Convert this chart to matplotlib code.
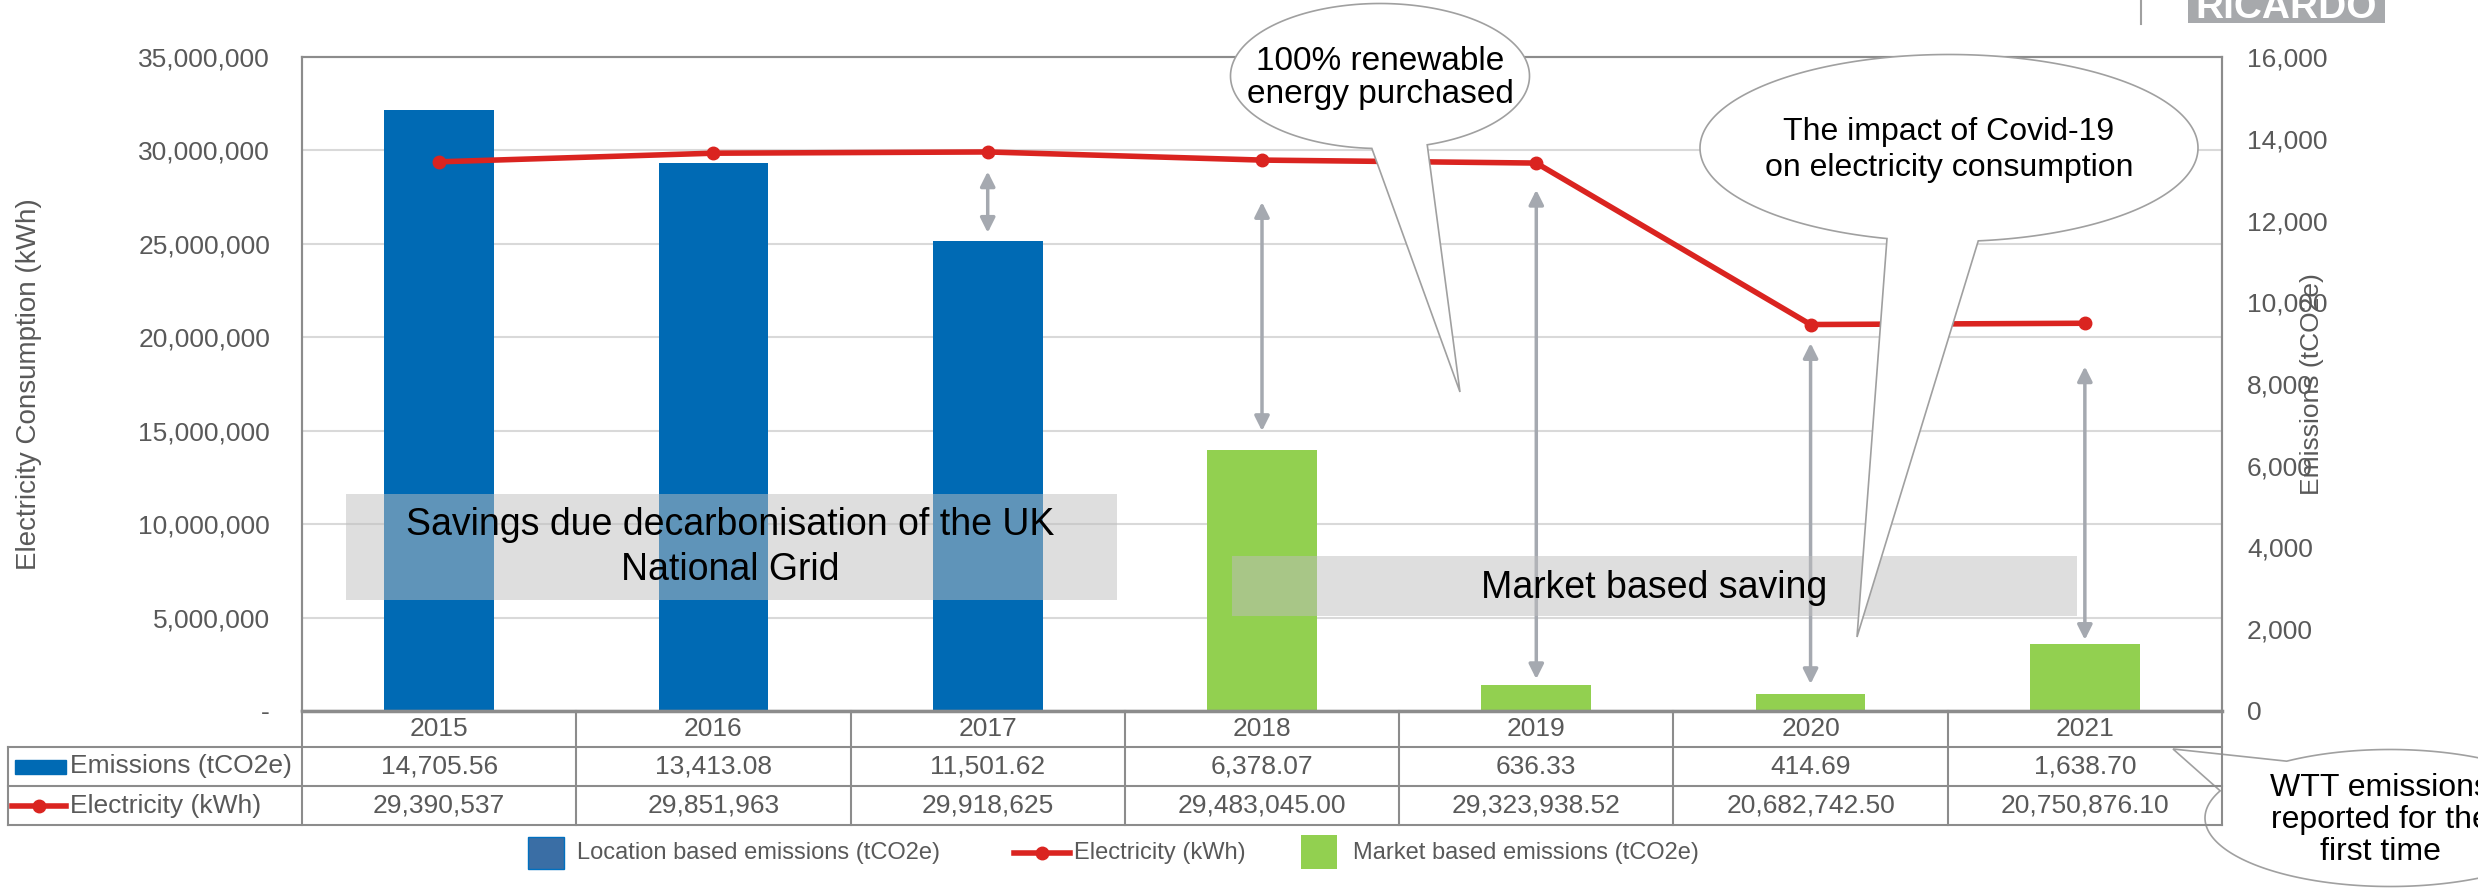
import numpy as np
import matplotlib
matplotlib.use('Agg')
import matplotlib.pyplot as plt
from matplotlib.patches import Rectangle, Polygon
from matplotlib.ticker import FuncFormatter

plt.rcParams['font.family'] = ['Liberation Sans', 'DejaVu Sans']

# ---- data ----
years = ['2015', '2016', '2017', '2018', '2019', '2020', '2021']
emissions = [14705.56, 13413.08, 11501.62, 6378.07, 636.33, 414.69, 1638.70]
electricity = [29390537, 29851963, 29918625, 29483045.00, 29323938.52,
               20682742.50, 20750876.10]
emissions_txt = ['14,705.56', '13,413.08', '11,501.62', '6,378.07', '636.33',
                 '414.69', '1,638.70']
electricity_txt = ['29,390,537', '29,851,963', '29,918,625', '29,483,045.00',
                   '29,323,938.52', '20,682,742.50', '20,750,876.10']
market_based = [False, False, False, True, True, True, True]

# saving arrows (tCO2e scale): year index, top, bottom
arrow_idx = [2, 3, 4, 5, 6]
arrow_top = [13200, 12450, 12750, 9000, 8430]
arrow_bot = [11700, 6850, 780, 660, 1740]

BLUE = '#006AB4'
GREEN = '#92D050'
RED = '#DA2420'
GREY_TXT = '#595959'
LINE_C = '#8C8C8C'

W, H = 2478, 889
L, R, T, B = 302, 2222, 57, 711

fig = plt.figure(figsize=(W / 100, H / 100), dpi=100)
ax = fig.add_axes([L / W, 1 - B / H, (R - L) / W, (B - T) / H])
ax2 = ax.twinx()

x = np.arange(len(years))
bar_cols = [GREEN if m else BLUE for m in market_based]

# grid (left axis steps, drawn behind bars)
for v in np.arange(5e6, 35e6, 5e6):
    ax2.axhline(v / 35e6 * 16000, color='#D9D9D9', lw=1.5, zorder=0)

ax2.bar(x, emissions, width=0.4, color=bar_cols, zorder=2)
ax.plot(x, electricity, color=RED, lw=4, marker='o', ms=9, zorder=5)
ax.set_zorder(ax2.get_zorder() + 1)
ax.patch.set_visible(False)

ax.set_xlim(-0.5, 6.5)
ax.set_ylim(0, 35e6)
ax2.set_ylim(0, 16000)
ax.set_xticks([])
ax.set_yticks(np.arange(0, 35e6 + 1, 5e6))
ax.yaxis.set_major_formatter(FuncFormatter(lambda v, p: '-' if v == 0 else f'{v:,.0f}'))
ax2.set_yticks(np.arange(0, 16001, 2000))
ax2.yaxis.set_major_formatter(FuncFormatter(lambda v, p: f'{v:,.0f}'))
ax.tick_params(axis='y', length=0, labelsize=19, labelcolor=GREY_TXT, pad=23)
ax2.tick_params(axis='y', length=0, labelsize=19, labelcolor=GREY_TXT, pad=18)
for a in (ax, ax2):
    for s in a.spines.values():
        s.set_color(LINE_C)
        s.set_linewidth(1.5)

ax.set_ylabel('Electricity Consumption (kWh)', fontsize=20, color=GREY_TXT)
ax.yaxis.set_label_coords((42 - L) / (R - L), 0.5)
ax2.set_ylabel('Emissions (tCO2e)', fontsize=19, color=GREY_TXT)
ax2.yaxis.set_label_coords((2300 - L) / (R - L), 0.5)

# arrows
for i, t, b in zip(arrow_idx, arrow_top, arrow_bot):
    ax2.annotate('', xy=(i, t), xytext=(i, b),
                 arrowprops=dict(arrowstyle='<|-|>', color='#A5A9B0', lw=2.5,
                                 mutation_scale=22, shrinkA=0, shrinkB=0),
                 zorder=3)

# shaded saving boxes
ax2.add_patch(Rectangle((-0.34, 2715), 2.81, 2592, facecolor='#BEBEBE', alpha=0.5,
                        edgecolor='none', zorder=3))
ax2.text(1.06, 4000, 'Savings due decarbonisation of the UK\nNational Grid',
         ha='center', va='center', fontsize=27, zorder=4, linespacing=1.3)
ax2.add_patch(Rectangle((2.89, 2322), 3.08, 1468, facecolor='#BEBEBE', alpha=0.5,
                        edgecolor='none', zorder=3))
ax2.text(4.43, 3009, 'Market based saving', ha='center', va='center',
         fontsize=27, zorder=4)

# ---- overlay in pixel coords: table, legend, callouts, logo ----
ov = fig.add_axes([0, 0, 1, 1])
ov.set_xlim(0, W)
ov.set_ylim(H, 0)
ov.axis('off')
ov.patch.set_visible(False)
ov.set_zorder(10)

col_w = (R - L) / len(years)
rows_y = [711, 747, 786, 825]
ov.plot([L, R], [rows_y[0], rows_y[0]], color=LINE_C, lw=2.5)
for yy in rows_y[1:]:
    ov.plot([8, R], [yy, yy], color=LINE_C, lw=1.5)
for k in range(len(years) + 1):
    ov.plot([L + k * col_w] * 2, [rows_y[0], rows_y[-1]], color=LINE_C, lw=1.5)
ov.plot([8, 8], [rows_y[1], rows_y[-1]], color=LINE_C, lw=1.5)

row_c = [(rows_y[i] + rows_y[i + 1]) / 2 for i in range(3)]
for i in range(len(years)):
    cx = L + col_w * (i + 0.5)
    ov.text(cx, row_c[0], years[i], ha='center', va='center', fontsize=19, color=GREY_TXT)
    ov.text(cx, row_c[1], emissions_txt[i], ha='center', va='center', fontsize=19, color=GREY_TXT)
    ov.text(cx, row_c[2], electricity_txt[i], ha='center', va='center', fontsize=19, color=GREY_TXT)

ov.add_patch(Rectangle((15, row_c[1] - 7), 51, 14, color=BLUE))
ov.text(70, row_c[1], 'Emissions (tCO2e)', ha='left', va='center', fontsize=19, color=GREY_TXT)
ov.plot([12, 66], [row_c[2]] * 2, color=RED, lw=4)
ov.plot([39], [row_c[2]], 'o', color=RED, ms=9)
ov.text(70, row_c[2], 'Electricity (kWh)', ha='left', va='center', fontsize=19, color=GREY_TXT)

# legend
ly = 853
ov.add_patch(Rectangle((528, ly - 16), 36, 32, facecolor='#3A6EA5', edgecolor='#0070C0', lw=1))
ov.text(577, ly, 'Location based emissions (tCO2e)', ha='left', va='center', fontsize=17, color=GREY_TXT)
ov.plot([1014, 1070], [ly, ly], color=RED, lw=4)
ov.plot([1042], [ly], 'o', color=RED, ms=9)
ov.text(1074, ly, 'Electricity (kWh)', ha='left', va='center', fontsize=17, color=GREY_TXT)
ov.add_patch(Rectangle((1301, ly - 18), 36, 34, facecolor=GREEN, edgecolor='none'))
ov.text(1353, ly, 'Market based emissions (tCO2e)', ha='left', va='center', fontsize=17, color=GREY_TXT)


def callout(cx, cy, w, h, b1, b2, tip):
    a1 = np.arctan2((b1[1] - cy) / (h / 2), (b1[0] - cx) / (w / 2))
    a2 = np.arctan2((b2[1] - cy) / (h / 2), (b2[0] - cx) / (w / 2))
    d = (a2 - a1 + np.pi) % (2 * np.pi) - np.pi
    t = a1 - np.sign(d) * np.linspace(0, 2 * np.pi - abs(d), 300)
    pts = np.column_stack([cx + w / 2 * np.cos(t), cy + h / 2 * np.sin(t)])
    pts = np.vstack([[tip], pts])
    ov.add_patch(Polygon(pts, closed=True, facecolor='white', edgecolor='#A0A0A0', lw=1.2))


callout(1380, 76, 299, 145, (1372, 147), (1426, 143), (1460, 392))
ov.text(1380, 78, '100% renewable\nenergy purchased', ha='center', va='center',
        fontsize=24, linespacing=1.1)
callout(1949, 148, 498, 187, (1886, 240), (1978, 240), (1857, 637))
ov.text(1949, 150, 'The impact of Covid-19\non electricity consumption', ha='center',
        va='center', fontsize=23, linespacing=1.3)
callout(2390, 818, 370, 137, (2270, 752), (2215, 790), (2173, 749))
ov.text(2380, 820, 'WTT emissions\nreported for the\nfirst time', ha='center',
        va='center', fontsize=23, linespacing=1.1)

# logo
ov.plot([2141, 2141], [0, 24], color='#A0A0A0', lw=1.5)
ov.add_patch(Rectangle((2188, 0), 197, 23, facecolor='#A7A9AC', edgecolor='none'))
ov.text(2286, 18, 'RICARDO', ha='center', va='baseline', fontsize=28,
        fontweight='bold', color='white')

fig.savefig('out.png', dpi=100)
